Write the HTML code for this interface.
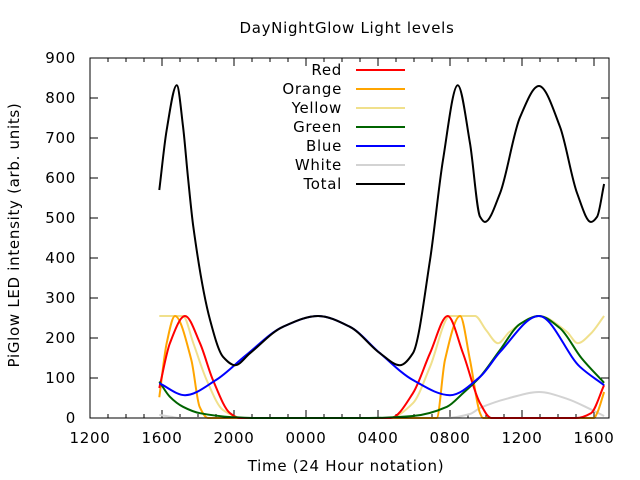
<!DOCTYPE html>
<html><head><meta charset="utf-8"><style>
html,body{margin:0;padding:0;background:#fff;}
svg{display:block;font-family:"DejaVu Sans","Liberation Sans",sans-serif;}
text{letter-spacing:0.7px;}
</style></head><body>
<svg id="chart" width="640" height="480">
<rect x="0" y="0" width="640" height="480" fill="#fff"/>
<text x="347" y="33" font-size="15" text-anchor="middle">DayNightGlow Light levels</text>
<text x="346" y="471" font-size="15" text-anchor="middle">Time (24 Hour notation)</text>
<text transform="translate(19,235) rotate(-90)" font-size="15" text-anchor="middle">PiGlow LED intensity (arb. units)</text>
<g id="axes"></g>
<g id="series"></g>
<g id="legend"></g>
<rect x="90" y="58" width="519" height="360" fill="none" stroke="#000" stroke-width="1"/>
</svg>
<script>
const xTickValues=[12,16,20,24,28,32,36,40];
const xTickLabels=["1200","1600","2000","0000","0400","0800","1200","1600"];
const yTickValues=[0,100,200,300,400,500,600,700,800,900];
const seriesNames=["Red","Orange","Yellow","Green","Blue","White","Total"];
const redT=[15.85,16.44,17.28,18.11,18.83,19.78,20.3,28.7,29.94,30.89,31.87,32.72,33.67,34.3,39.0,39.83,40.56];
const redV=[75,187,255,187,95,12,0,0,62,162,255,162,37,0,0,12,82];
const orangeT=[15.85,16.26,16.72,17.63,18.09,18.56,31.26,31.72,32.56,33.11,33.67,33.83,40.0,40.17,40.56];
const orangeV=[52,187,255,145,28,0,0,145,255,145,12,0,0,12,65];
const yellowT=[15.85,17.17,17.74,18.48,19.39,20.5,28.6,29.94,30.89,32.0,33.39,34.0,34.67,35.3,36.94,38.5,39.1,39.8,40.56];
const yellowV=[255,255,187,95,20,0,0,37,128,255,255,220,187,215,255,215,187,210,255];
const greenT=[15.85,16.44,17.17,18.11,19.94,21,27.5,29.94,31.83,32.72,33.67,34.78,35.89,36.94,38.1,39.3,40.56];
const greenV=[91,53,28,12,2,0,0,5,28,62,103,170,235,255,225,150,88];
const blueT=[15.85,17.28,19.0,20.67,22.72,24.67,26.44,28.11,29.94,32.0,33.67,34.78,36.94,39.22,40.56];
const blueV=[87,57,95,157,228,255,228,162,95,57,103,165,255,128,82];
const whiteT=[15.85,16.5,17,31.8,33.1,33.67,35.3,36.94,38.5,39.8,40.56];
const whiteV=[8,3,0,0,10,25,50,65,48,22,5];
const totalT=[15.85,16.26,16.82,17.17,17.44,17.74,18.67,19.39,20.06,20.89,22.72,24.67,26.44,28.11,29.22,29.94,30.89,31.61,32.43,33.11,33.67,33.94,34.78,35.89,36.94,38.11,39.06,39.83,40.17,40.56];
const totalV=[570,720,832,728,603,478,245,153,132,162,228,255,228,162,132,162,395,645,832,687,503,490,562,752,830,728,562,490,503,585];

const X0=90,X1=609,Y0=418,Y1=58,XMIN=12,XMAX=40.833,YMAX=900;
function xs(h){return X0+(h-XMIN)/(XMAX-XMIN)*(X1-X0);}
function ys(v){return Y0-(v/YMAX)*(Y0-Y1);}
const NS="http://www.w3.org/2000/svg";
const axes=document.getElementById('axes');
function mk(tag,attrs,parent){const e=document.createElementNS(NS,tag);for(const k in attrs)e.setAttribute(k,attrs[k]);parent.appendChild(e);return e;}
for(let h=13;h<XMAX;h++){
  if(xTickValues.includes(h))continue;
  const t=mk('line',{x1:xs(h),x2:xs(h),y1:Y0,y2:Y0-4,stroke:'#000'},axes);
  
  
  const t2=mk('line',{x1:xs(h),x2:xs(h),y1:Y1,y2:Y1+4,stroke:'#000'},axes);
  
  
}
xTickValues.forEach((v,i)=>{
  const x=xs(v);
  const t=mk('line',{x1:x,x2:x,y1:Y0,y2:Y0-8,stroke:'#000'},axes);
  
  
  const t2=mk('line',{x1:x,x2:x,y1:Y1,y2:Y1+8,stroke:'#000'},axes);
  
  
  const l=mk('text',{x:x,y:443,'font-size':15,'text-anchor':'middle'},axes);
  l.textContent=xTickLabels[i];
  
  
});
yTickValues.forEach(v=>{
  const y=ys(v);
  const t=mk('line',{x1:X0,x2:X0+8,y1:y,y2:y,stroke:'#000'},axes);
  
  
  const t2=mk('line',{x1:X1,x2:X1-8,y1:y,y2:y,stroke:'#000'},axes);
  
  
  const l=mk('text',{x:76,y:y+5,'font-size':15,'text-anchor':'end'},axes);
  l.textContent=String(v);
  
  
});
function pathFor(T,V){
  const n=T.length,d=[],m=new Array(n).fill(0);
  for(let i=0;i<n-1;i++)d.push((V[i+1]-V[i])/(T[i+1]-T[i]));
  m[0]=d[0];m[n-1]=d[n-2];
  for(let i=1;i<n-1;i++){
    if(d[i-1]*d[i]<=0)m[i]=0;
    else{const w1=2*(T[i+1]-T[i])+(T[i]-T[i-1]),w2=(T[i+1]-T[i])+2*(T[i]-T[i-1]);m[i]=(w1+w2)/(w1/d[i-1]+w2/d[i]);}
  }
  let s='M'+xs(T[0]).toFixed(2)+','+ys(V[0]).toFixed(2);
  for(let i=0;i<n-1;i++){
    const h=T[i+1]-T[i];
    s+=' C'+xs(T[i]+h/3).toFixed(2)+','+ys(V[i]+m[i]*h/3).toFixed(2)+' '+xs(T[i+1]-h/3).toFixed(2)+','+ys(V[i+1]-m[i+1]*h/3).toFixed(2)+' '+xs(T[i+1]).toFixed(2)+','+ys(V[i+1]).toFixed(2);
  }
  return s;
}
const seriesT=[redT,orangeT,yellowT,greenT,blueT,whiteT,totalT];
const seriesV=[redV,orangeV,yellowV,greenV,blueV,whiteV,totalV];
const colors=["#ff0000","#ffa500","#f0e08c","#006400","#0000ff","#d3d3d3","#000000"];
const names=["red-line","orange-line","yellow-line","green-line","blue-line","white-line","total-line"];
const sg=document.getElementById('series');
const order=[5,2,1,0,3,4,6];
order.forEach(i=>{
  const p=mk('path',{d:pathFor(seriesT[i],seriesV[i]),fill:'none',stroke:colors[i],'stroke-width':2,'stroke-linejoin':'round'},sg);
  
  
});
const lg=document.getElementById('legend');
seriesNames.forEach((n,i)=>{
  const y=70+i*19;
  const t=mk('text',{x:342,y:y+5,'font-size':15,'text-anchor':'end'},lg);
  t.textContent=n;
  
  
  const l=mk('line',{x1:356,x2:405,y1:y,y2:y,stroke:colors[i],'stroke-width':2},lg);
  
  
});
</script>
</body></html>
